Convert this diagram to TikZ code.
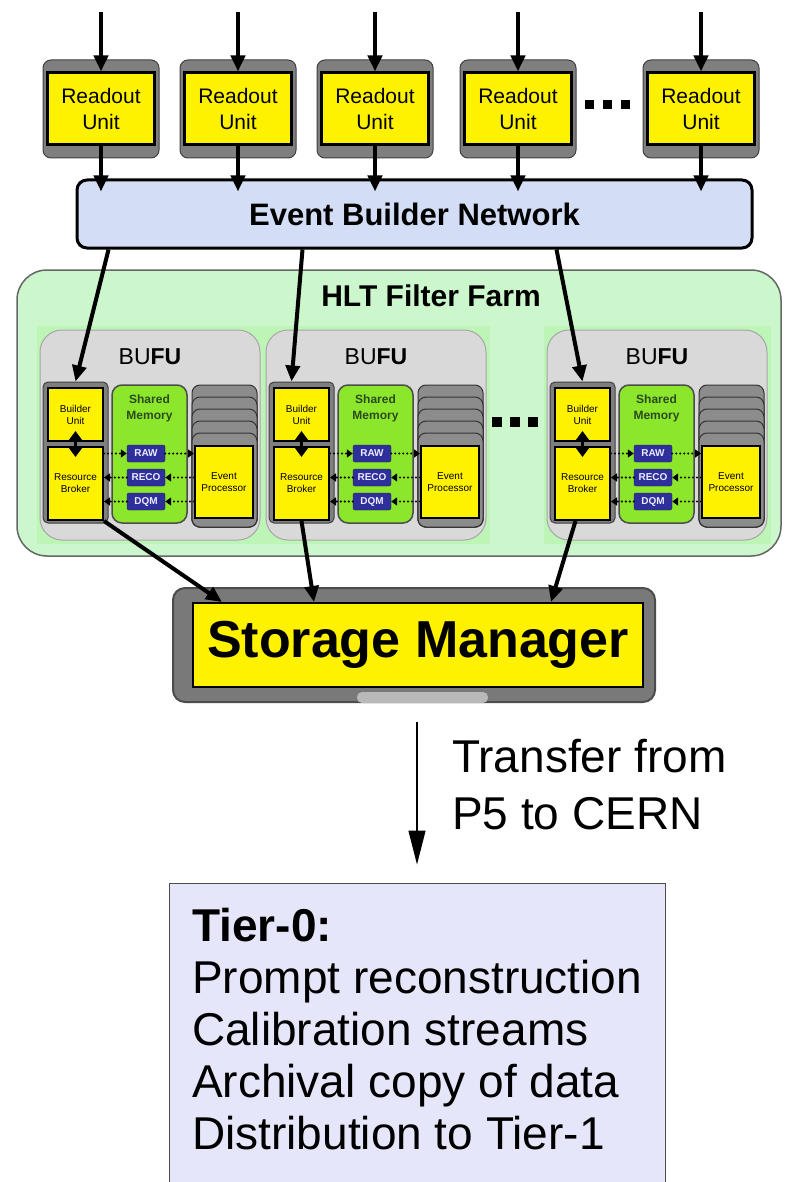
\documentclass[tikz,border=0pt]{standalone}
\usepackage{xcolor}
\usepackage{fontspec}
\setmainfont{Liberation Sans}
\usepackage{tikz}
\usetikzlibrary{arrows.meta}

\definecolor{shellgray}{HTML}{7F7F7F}
\definecolor{ebnblue}{HTML}{D3DEF6}
\definecolor{farmgreen}{HTML}{CCF6CC}
\definecolor{patchgreen}{HTML}{BCF5B6}
\definecolor{bufugray}{HTML}{D9D9D9}
\definecolor{memgreen}{HTML}{8CE62C}
\definecolor{memtext}{HTML}{2B4A1E}
\definecolor{bufnavy}{HTML}{2F2F9C}
\definecolor{tierblue}{HTML}{E6E6FA}

\newcommand{\fsz}[2]{\fontsize{#1}{#2}\selectfont}

\begin{document}
\begin{tikzpicture}[x=1pt, y=-1pt,
    shell/.style={draw=black!75, fill=shellgray, rounded corners=8pt, line width=1pt, inner sep=0pt},
    ybox/.style={draw=black, fill=yellow, line width=2pt, inner sep=0pt, align=center},
    fat/.style={line width=4pt, -{Triangle[length=16pt,width=14pt]}},
    bufbox/.style={draw=bufnavy!60!black, fill=bufnavy, rounded corners=2pt, minimum width=38pt,
      minimum height=17pt, inner sep=0pt, text=blue!8, font=\fsz{10}{12}\bfseries},
    dotlink/.style={line width=2.4pt, dash pattern=on 0pt off 4pt, line cap=round,
      -{Triangle[length=6pt,width=8pt]}},
  ]
  \path[use as bounding box, fill=white] (0,0) rectangle (784,1182);

  % Nodes
  % readout units
  \foreach \cx [count=\i] in {101,238,375,518,701} {
    \node[shell, minimum width=116pt, minimum height=98pt] (rus\i) at (\cx,109) {};
    \node[ybox, line width=3pt, minimum width=107pt, minimum height=72pt, font=\fsz{21}{26}] (ru\i) at (\cx,109) {Readout\\Unit};
    \coordinate (in\i) at (\cx,12);
  }
  \foreach \dx in {589,607,625} \fill (\dx-4.5,100.5) rectangle (\dx+4.5,109.5);

  \node[draw=black, line width=3pt, fill=ebnblue, rounded corners=10pt, minimum width=675pt,
    minimum height=68pt, font=\fsz{31}{36}\bfseries] (ebn) at (414.5,214) {Event Builder Network};

  % filter farm
  \node[draw=black!60, line width=1.5pt, fill=farmgreen, rounded corners=30pt, minimum width=764pt,
    minimum height=286pt] (hlt) at (399,413) {};
  \node[font=\fsz{30}{36}\bfseries] (hlttitle) at (431,296) {HLT Filter Farm};

  \foreach \ox [count=\n] in {0,226,507} {
    \fill[patchgreen] (37+\ox,326) rectangle (264+\ox,544);
    \node[draw=black!35, fill=bufugray, rounded corners=22pt, minimum width=220pt, minimum height=210pt,
      line width=1pt] (bufu\n) at (150+\ox,435) {};
    \node[font=\fsz{23}{28}] (bufutitle\n) at (150+\ox,357) {BU\textbf{FU}};
    % builder unit + resource broker
    \node[shell, rounded corners=5pt, minimum width=65pt, minimum height=141pt] (bucol\n) at (75.5+\ox,452.5) {};
    \node[ybox, minimum width=55pt, minimum height=53pt, font=\fsz{10}{12}] (bu\n) at (75.5+\ox,414.5) {Builder\\Unit};
    \node[ybox, minimum width=55pt, minimum height=73pt, font=\fsz{10}{12}] (rb\n) at (75.5+\ox,483.5) {Resource\\Broker};
    % shared memory
    \node[draw=black!70, line width=1.5pt, fill=memgreen, rounded corners=10pt, minimum width=75pt,
      minimum height=138pt] (shm\n) at (149.5+\ox,454) {};
    \node[text=memtext, font=\fsz{12}{16}\bfseries, align=center] (shmtitle\n) at (149.5+\ox,408.5) {Shared\\Memory};
    \node[bufbox] (raw\n) at (146+\ox,453.5) {RAW};
    \node[bufbox] (reco\n) at (146+\ox,477.5) {RECO};
    \node[bufbox] (dqm\n) at (146+\ox,501.5) {DQM};
    % event processors
    \foreach \cy in {385,397,409,421,433}
      \draw[draw=black!80, fill=shellgray!90, rounded corners=8pt, line width=1pt] (192+\ox,\cy) rectangle (257+\ox,527);
    \node[ybox, minimum width=58pt, minimum height=72pt, font=\fsz{10}{12}] (ep\n) at (224+\ox,482) {Event\\Processor};

    \draw[line width=3.5pt, {Triangle[length=10pt,width=14pt]}-{Triangle[length=10pt,width=14pt]}]
      ([yshift=11pt]bu\n.south) -- ([yshift=-11pt]rb\n.north);
    \draw[dotlink] (rb\n.east |- raw\n.west) -- (raw\n.west);
    \draw[dotlink] (raw\n.east) -- (raw\n.east -| ep\n.west);
    \draw[dotlink] (reco\n.east -| ep\n.west) -- (reco\n.east);
    \draw[dotlink] (reco\n.west) -- (reco\n.west -| rb\n.east);
    \draw[dotlink] (dqm\n.east -| ep\n.west) -- (dqm\n.east);
    \draw[dotlink] (dqm\n.west) -- (dqm\n.west -| rb\n.east);
  }
  \foreach \dx in {497,515,533} \fill (\dx-5,417) rectangle (\dx+5,427);

  % storage manager
  \node[draw=black!70, line width=2pt, fill=shellgray!95!black, rounded corners=12pt, minimum width=482pt,
    minimum height=114pt] (smshell) at (414,645) {};
  \fill[gray!55, rounded corners=5pt] (357,703) rectangle (488,692);
  \node[ybox, minimum width=450pt, minimum height=84pt, font=\fsz{52}{60}\bfseries] (sm) at (418,645) {Storage Manager};

  % Tier-0
  \node[draw=black!70, fill=tierblue, minimum width=496pt, minimum height=312pt, line width=1pt] (tier) at (417,1039) {};
  \node[anchor=north west, align=left, inner sep=0pt, font=\fsz{46}{52}] (tiertext) at (192,908)
    {\textbf{Tier-0:}\\Prompt reconstruction\\Calibration streams\\Archival copy of data\\Distribution to Tier-1};
  \coordinate (xfer) at (417,722);
  \node[anchor=west, align=left, inner sep=0pt, font=\fsz{46}{57}] (xfertext) at (452,785) {Transfer from\\P5 to CERN};

  % Edges
  \foreach \i in {1,...,5} {
    \draw[fat] (in\i) -- (ru\i.north);
    \draw[fat] (ru\i.south) -- ([yshift=-13pt]ru\i.south |- ebn.north);
  }
  \draw[fat] ([xshift=33pt]ebn.south west) -- (bucol1.north);
  \draw[fat] ([xshift=227pt]ebn.south west) -- ([xshift=-10pt]bucol2.north);
  \draw[fat] ([xshift=481pt]ebn.south west) -- (bucol3.north);
  \draw[fat] (rb1.south east) -- ([xshift=30pt]sm.north west);
  \draw[fat] (rb2.south) -- ([xshift=122pt]sm.north west);
  \draw[fat] ([xshift=-7pt]rb3.south) -- ([xshift=359pt]sm.north west);
  \draw[line width=1.2pt, -{Triangle[length=34pt,width=17pt]}] (xfer) -- ([yshift=18pt]tier.north);
\end{tikzpicture}
\end{document}
